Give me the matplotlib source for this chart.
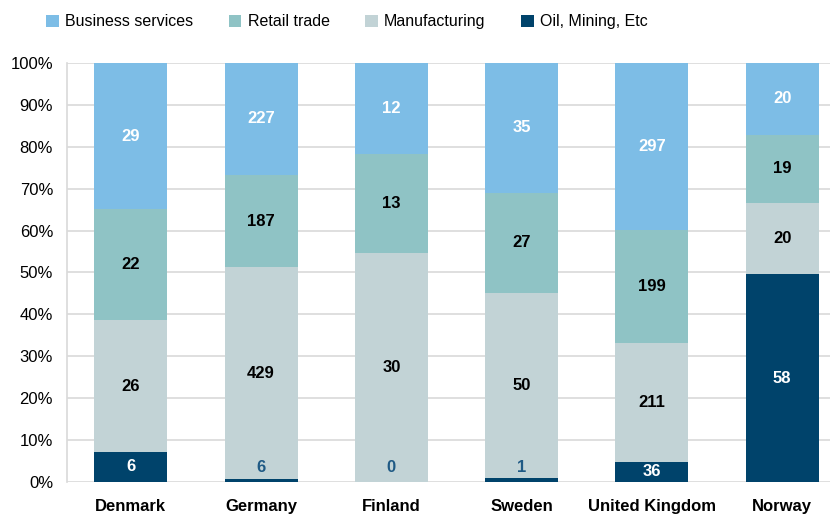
import matplotlib
matplotlib.use('Agg')
import matplotlib.pyplot as plt
import numpy as np

plt.rcParams['font.family'] = ['Liberation Sans', 'DejaVu Sans']

countries = ['Denmark', 'Germany', 'Finland', 'Sweden', 'United Kingdom', 'Norway']
oil = [6, 6, 0, 1, 36, 58]
manufacturing = [26, 429, 30, 50, 211, 20]
retail = [22, 187, 13, 27, 199, 19]
business = [29, 227, 12, 35, 297, 20]

series = [
    ('Oil, Mining, Etc', oil, '#00436b', 'white'),
    ('Manufacturing', manufacturing, '#c2d3d6', 'black'),
    ('Retail trade', retail, '#8fc3c5', 'black'),
    ('Business services', business, '#7dbde6', 'white'),
]

totals = np.array(oil) + np.array(manufacturing) + np.array(retail) + np.array(business)

fig = plt.figure(figsize=(8.37, 5.2), dpi=100)
ax = fig.add_axes([0.080, 0.073, 0.912, 0.806])

x = np.arange(len(countries))
bottom = np.zeros(len(countries))
for name, vals, color, tcolor in series:
    share = np.array(vals) / totals * 100
    ax.bar(x, share, bottom=bottom, width=0.56, color=color, label=name, zorder=3)
    for i, v in enumerate(vals):
        if share[i] < 3:
            # tiny segments: label sits just above, in the series colour
            ax.text(x[i], 3.5, str(v), ha='center', va='center', fontsize=12,
                    color='#1f5a85', fontweight='bold', zorder=4)
        else:
            ax.text(x[i], bottom[i] + share[i] / 2, str(v), ha='center', va='center',
                    fontsize=12, color=tcolor, fontweight='bold', zorder=4)
    bottom += share

ax.set_xlim(-0.49, 5.37)
ax.set_ylim(0, 100)
ax.set_yticks(np.arange(0, 101, 10))
ax.set_yticklabels([f'{t}%' for t in range(0, 101, 10)], fontsize=12)
ax.set_xticks(x)
ax.set_xticklabels(countries, fontsize=12, fontweight='bold')
ax.tick_params(axis='both', length=0, pad=10)
ax.tick_params(axis='x', pad=12)
ax.yaxis.grid(True, color='#d9d9d9', linewidth=1.2, zorder=0)
for s in ['top', 'right', 'bottom']:
    ax.spines[s].set_visible(False)
ax.spines['left'].set_color('#d9d9d9')
ax.spines['left'].set_linewidth(1.2)

handles, labels = ax.get_legend_handles_labels()
order = [3, 2, 1, 0]
fig.legend([handles[i] for i in order], [labels[i] for i in order],
           loc='upper left', bbox_to_anchor=(0.038, 1.0), ncol=4, frameon=False,
           fontsize=11.5, handlelength=0.8, handleheight=0.8, handletextpad=0.4,
           columnspacing=2.2)

fig.savefig('out.png', dpi=100)
